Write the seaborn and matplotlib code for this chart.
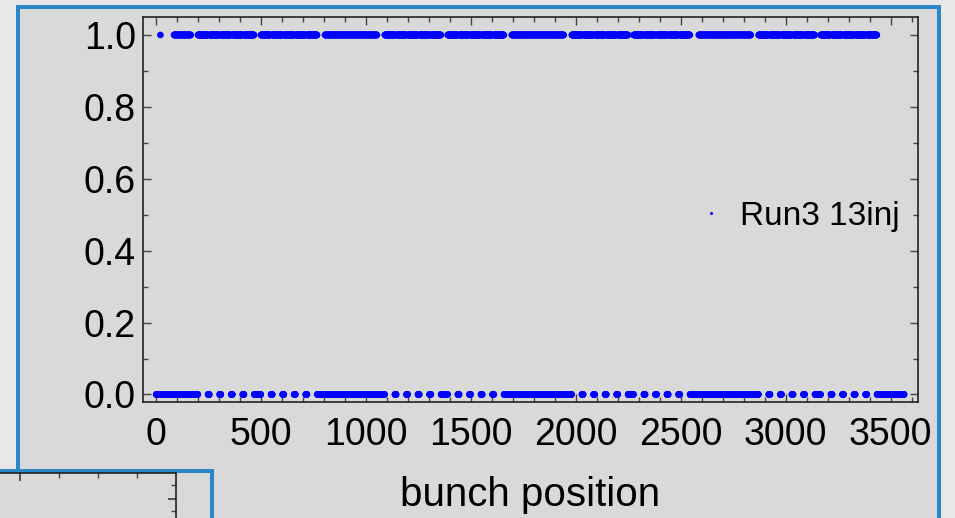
import numpy as np
import pandas as pd
import matplotlib
matplotlib.use("Agg")
import matplotlib.pyplot as plt
from matplotlib.patches import Rectangle
from matplotlib.ticker import MultipleLocator, FixedLocator
from matplotlib.lines import Line2D
import seaborn as sns

# ---- filling scheme "Run3 13inj" -------------------------------------------
n_slots = 3564                      # 25 ns bunch slots in the ring
pilot_slot = 21                     # single bunch at the head of the fill
train_starts = [86, 200, 500, 805, 1090, 1390, 1695, 1981, 2276, 2586, 2871, 3167]
train_types = ["8b4e", "48b", "48b", "8b4e", "48b", "48b",
               "8b4e", "48b", "48b", "8b4e", "48b", "48b"]
train_batches = [7, 5, 5, 21, 5, 5, 21, 5, 5, 21, 5, 5]
batch_layout = {"8b4e": (8, 4), "48b": (48, 7)}   # (filled, empty) per batch
series_name = "Run3 13inj"

filled = np.zeros(n_slots, dtype=int)
filled[pilot_slot - 1] = 1
for start, kind, nb in zip(train_starts, train_types, train_batches):
    on, off = batch_layout[kind]
    pattern = ([1] * on + [0] * off) * nb
    pattern = pattern[:-off]
    filled[start - 1:start - 1 + len(pattern)] = pattern

df = pd.DataFrame({
    "bunch position": np.arange(1, n_slots + 1),
    "filled": filled,
    "scheme": series_name,
})

# ---- figure -----------------------------------------------------------------
W, H = 955, 518
sns.set_theme(style="ticks")
plt.rcParams["font.family"] = ["Liberation Sans", "DejaVu Sans"]
plt.rcParams["text.color"] = "black"
plt.rcParams["axes.labelcolor"] = "black"
plt.rcParams["xtick.labelcolor"] = "black"
plt.rcParams["ytick.labelcolor"] = "black"

fig = plt.figure(figsize=(W / 100, H / 100), dpi=100, facecolor="#e8e8e8")
panel_bg = "#d9d9d9"
panel_edge = "#2a88c9"


def px_rect(x0, y0, x1, y1, **kw):
    return Rectangle((x0 / 100, (H - y1) / 100), (x1 - x0) / 100, (y1 - y0) / 100,
                     transform=fig.dpi_scale_trans, **kw)


# slide panels
fig.add_artist(px_rect(18, 7, 939, 560, facecolor=panel_bg, edgecolor=panel_edge,
                       linewidth=2.9, zorder=-2))
fig.add_artist(px_rect(-20, 471, 212, 560, facecolor=panel_bg, edgecolor=panel_edge,
                       linewidth=2.9, zorder=-1))

# main plot
ax = fig.add_axes([143 / W, 1 - 402 / H, (918 - 143) / W, (402 - 17) / H])
ax.set_facecolor(panel_bg)
sns.scatterplot(data=df, x="bunch position", y="filled", hue="scheme",
                palette=["#0000ff"], s=23, linewidth=0, ax=ax, legend=True)

ax.set_xlim(-62, 3630)
ax.set_ylim(-0.021, 1.05)
ax.xaxis.set_major_locator(MultipleLocator(500))
ax.xaxis.set_minor_locator(MultipleLocator(100))
ax.yaxis.set_major_locator(MultipleLocator(0.2))
ax.yaxis.set_minor_locator(MultipleLocator(0.1))
ax.tick_params(which="both", direction="in", top=True, right=True,
               color="#444444", width=1.0)
ax.tick_params(which="major", length=6, labelsize=27, pad=5)
ax.tick_params(which="minor", length=3.5)
ax.tick_params(axis="x", which="major", pad=10.5)
for sp in ax.spines.values():
    sp.set_color("#222222")
    sp.set_linewidth(1.2)
ax.set_ylabel("")
ax.set_xlabel("bunch position", fontsize=29, labelpad=17)

leg = ax.get_legend()
handles = [Line2D([], [], marker="o", linestyle="", color="#0000ff",
                  markersize=2.2, markeredgewidth=0)]
labels = [t.get_text() for t in leg.get_texts()]
leg.remove()
ax.legend(handles, labels, loc="center right", bbox_to_anchor=(0.976, 0.482),
          frameon=False, fontsize=24, handlelength=0.8, handletextpad=0.45,
          borderpad=0, borderaxespad=0)

# neighbouring plot panel, lower left
ax2 = fig.add_axes([-100 / W, 1 - 600 / H, 276 / W, 127 / H])
ax2.set_facecolor("none")
ax2.set_xlim(0, 276)
ax2.set_ylim(0, 127)
for side in ("left", "bottom"):
    ax2.spines[side].set_visible(False)
for side in ("top", "right"):
    ax2.spines[side].set_color("#222222")
    ax2.spines[side].set_linewidth(1.2)
ax2.xaxis.set_major_locator(FixedLocator([120]))
ax2.xaxis.set_minor_locator(FixedLocator([159, 198, 237]))
ax2.yaxis.set_major_locator(FixedLocator([101]))
ax2.yaxis.set_minor_locator(FixedLocator([89, 115]))
ax2.tick_params(which="both", direction="in", top=True, bottom=False,
                right=True, left=False, labeltop=False, labelbottom=False,
                labelleft=False, labelright=False, color="#444444")
ax2.tick_params(which="major", length=6)
ax2.tick_params(which="minor", length=3.5)

fig.savefig("out.png", dpi=100, facecolor=fig.get_facecolor())
